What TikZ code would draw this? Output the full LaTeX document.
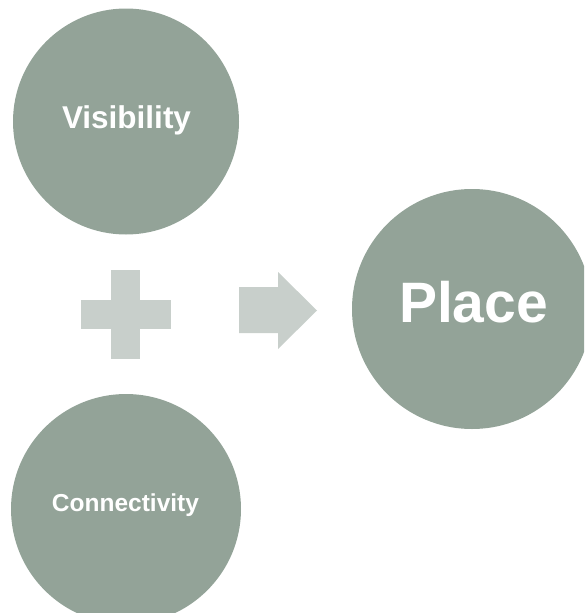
\documentclass[tikz,border=0pt]{standalone}
\usepackage{fontspec}
\setmainfont{Liberation Sans}
\definecolor{sage}{RGB}{147,163,152}
\definecolor{mist}{RGB}{200,207,203}
\tikzset{
  bubble/.style={circle, fill=sage, draw=none, inner sep=0pt},
  bubtext/.style={text=white, font=\bfseries, anchor=base, inner sep=0pt}
}
\begin{document}
\begin{tikzpicture}[x=1pt, y=-1pt]
\useasboundingbox (0,0) rectangle (584,613);
\clip (0,0) rectangle (584,613);
% the three circles
\node[bubble, minimum size=226pt] (vis) at (126,121.5) {};
\node[bubble, minimum size=230pt] (con) at (126,509) {};
\node[bubble, minimum size=240pt] (plc) at (472,309) {};
\node[bubtext, font=\bfseries\fontsize{31.5}{36}\selectfont] (vistxt) at (126.5,128) {Visibility};
\node[bubtext, font=\bfseries\fontsize{24.5}{28}\selectfont] (contxt) at (125.5,511) {Connectivity};
\node[bubtext, font=\bfseries\fontsize{57}{64}\selectfont] (plctxt) at (473.5,322) {Place};
% plus sign
\fill[mist] (111,270) rectangle (140,359);
\fill[mist] (81,300) rectangle (171,329);
% arrow
\fill[mist] (239,287) -- (278,287) -- (278,272) -- (317,310.5)
  -- (278,349) -- (278,333) -- (239,333) -- cycle;
\end{tikzpicture}
\end{document}
